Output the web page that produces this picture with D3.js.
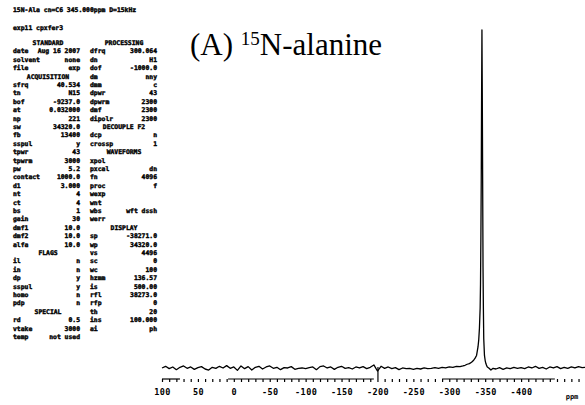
<!DOCTYPE html>
<html>
<head>
<meta charset="utf-8">
<script src="https://cdn.jsdelivr.net/npm/d3@7"></script>
<style>
  body { margin: 0; background: #fff; }
  svg { display: block; }
  .mono { font-family: "DejaVu Sans Mono", monospace; font-weight: bold; fill: #000; }
</style>
</head>
<body>
<svg id="chart"></svg>
<script>
// spectrum (chemical shift in ppm, relative intensity)
const ppm = [
  100, 95, 90, 85, 80, 75, 70, 65, 60, 55,
  50, 45, 40, 35, 30, 25, 20, 15, 10, 5,
  0, -5, -10, -15, -20, -25, -30, -35, -40, -45,
  -50, -55, -60, -65, -70, -75, -80, -85, -90, -95,
  -100, -105, -110, -115, -120, -125, -130, -135, -140, -145,
  -150, -155, -160, -165, -170, -175, -180, -185, -190, -195,
  -200, -205, -210, -215, -220, -225, -230, -235, -240, -245,
  -250, -255, -260, -265, -270, -275, -280, -285, -290, -295,
  -300, -305, -310, -315,
  -319, -322, -325, -328, -331, -334, -336, -338, -340, -341,
  -342, -343, -343.5, -344, -344.5, -345, -345.5, -346, -346.5, -347,
  -347.5, -348, -349, -350, -351, -352, -353, -355,
  -358, -361, -365, -370, -375, -380, -385, -390, -395, -400,
  -405, -410, -415, -420, -425, -430, -435, -440, -445, -450,
  -455, -460, -465, -470, -475, -480, -485, -489
];
const intensity = [
  0.3, 0.8, 0.1, 0.6, -0.2, 0.5, 0.9, 0.2, 0.6, -0.1,
  0.4, 0.7, 0.0, -0.3, 0.5, 0.2, 0.8, 0.3, 1.0, 0.2,
  0.6, -0.4, 0.9, 0.1, 0.7, -0.3, 0.5, 0.8, 0.0, 0.6,
  0.9, 0.2, 0.5, -0.2, 0.4, 0.3, 0.7, -0.1, 0.2, 0.3,
  0.1, 0.4, 0.6, -0.2, 0.7, 0.9, 0.3, 0.6, -0.1, 0.5,
  0.8, 0.2, 0.4, 0.0, 0.6, 0.3, 0.7, 0.1, 0.5, 1.2,
  -0.6, 0.8, 0.2, 0.6, 0.1, 0.4, -0.2, 0.3, 0.1, 0.2,
  -0.1, 0.2, 0.0, 0.3, 0.1, 0.2, 0.4, 0.2, 0.5, 0.3,
  0.6, 0.5, 0.8, 0.7,
  0.9, 1.1, 1.4, 1.6, 2.0, 2.6, 3.2, 4.0, 6.5, 8.5,
  12, 18, 25, 38, 55, 80, 100, 80, 55, 30,
  18, 9, 4, 2.5, 1.6, 1.0, 0.6, 0.3,
  -0.3, 0.2, 0.0, 0.4, -0.1, 0.3, 0.1, 0.5, 0.2, 0.4,
  0.1, 0.6, 0.3, 0.8, 0.2, 0.5, 0.0, 0.6, 0.3, 0.7,
  0.1, 0.5, 0.2, 0.6, 0.3, 0.7, 0.4, 0.5
];
const tickLabels = [100, 50, 0, -50, -100, -150, -200, -250, -300, -350, -400];
// parts of the printed ppm rule that are actually visible in the scan
const axisRuns = [[100, 75], [8, -195], [-290, -447]];

// acquisition parameter listing printed beside the spectrum
const headerLines = ["15N-Ala cn=C6 345.000ppm D=15kHz", "exp11  cpxfer3"];
const paramRows = [
  ["STANDARD", null, "PROCESSING", null],
  ["date", "Aug 16 2007", "dfrq", "300.064"],
  ["solvent", "none", "dn", "H1"],
  ["file", "exp", "dof", "-1000.0"],
  ["ACQUISITION", null, "dm", "nny"],
  ["sfrq", "40.534", "dmm", "c"],
  ["tn", "N15", "dpwr", "43"],
  ["bof", "-9237.0", "dpwrm", "2300"],
  ["at", "0.032000", "dmf", "2300"],
  ["np", "221", "dipolr", "2300"],
  ["sw", "34320.0", "DECOUPLE F2", null],
  ["fb", "13400", "dcp", "n"],
  ["sspul", "y", "crossp", "1"],
  ["tpwr", "43", "WAVEFORMS", null],
  ["tpwrm", "3000", "xpol", ""],
  ["pw", "5.2", "pxcal", "dn"],
  ["contact", "1000.0", "fn", "4096"],
  ["d1", "3.000", "proc", "f"],
  ["nt", "4", "wexp", ""],
  ["ct", "4", "wnt", ""],
  ["bs", "1", "wbs", "wft dssh"],
  ["gain", "30", "werr", ""],
  ["dmf1", "10.0", "DISPLAY", null],
  ["dmf2", "10.0", "sp", "-38271.0"],
  ["alfa", "10.0", "wp", "34320.0"],
  ["FLAGS", null, "vs", "4496"],
  ["il", "n", "sc", "0"],
  ["in", "n", "wc", "100"],
  ["dp", "y", "hzmm", "136.57"],
  ["sspul", "y", "is", "500.00"],
  ["homo", "n", "rfl", "38273.0"],
  ["pdp", "n", "rfp", "0"],
  ["SPECIAL", null, "th", "20"],
  ["rd", "0.5", "ins", "100.000"],
  ["vtake", "3000", "ai", "ph"],
  ["temp", "not used", "", ""]
];

const width = 585, height = 405;
const svg = d3.select("#chart").attr("width", width).attr("height", height);
svg.append("rect").attr("width", width).attr("height", height).attr("fill", "#fff");

// x runs high ppm -> low ppm, left to right
const x = d3.scaleLinear().domain([100, -489]).range([162, 585]);
const y = d3.scaleLinear().domain([0, 100]).range([369, 30]);

const spectrum = d3.zip(ppm, intensity);
svg.append("path")
  .datum(spectrum)
  .attr("fill", "none")
  .attr("stroke", "#000")
  .attr("stroke-width", 1.3)
  .attr("stroke-linejoin", "round")
  .attr("d", d3.line().x(d => x(d[0])).y(d => y(d[1])));

// ppm axis
const axis = d3.axisBottom(x)
  .tickValues(d3.range(100, -489, -10))
  .tickSize(3)
  .tickPadding(7)
  .tickFormat(d => tickLabels.includes(d) ? d : "");
const gx = svg.append("g").attr("transform", "translate(0,379)").call(axis);
gx.select(".domain").remove();
gx.selectAll(".tick line").attr("stroke", "#000").attr("stroke-width", 1.2);
// the -200 mark runs up to the trace in the print
gx.selectAll(".tick").filter(d => d === -200).select("line").attr("y1", -12);
gx.selectAll(".tick text")
  .attr("class", "mono")
  .style("font-size", "8.5px")
  .style("letter-spacing", "0.4px");
gx.selectAll(".run")
  .data(axisRuns)
  .join("line")
  .attr("class", "run")
  .attr("x1", d => x(d[0])).attr("x2", d => x(d[1]))
  .attr("y1", 0).attr("y2", 0)
  .attr("stroke", "#000").attr("stroke-width", 1.2);

svg.append("text").attr("class", "mono")
  .attr("x", 572).attr("y", 399)
  .attr("text-anchor", "middle")
  .style("font-size", "7px")
  .text("ppm");

// title
const title = svg.append("text")
  .attr("x", 190).attr("y", 55)
  .style("font-family", "'Liberation Serif', 'DejaVu Serif', serif")
  .style("font-size", "31px")
  .attr("fill", "#000");
title.append("tspan").text("(A) ");
title.append("tspan").attr("dy", -10).style("font-size", "19px").text("15");
title.append("tspan").attr("dy", 10).text("N-alanine");

// parameter listing
const block = svg.append("g").attr("class", "mono")
  .style("font-size", "6.4px")
  .attr("stroke", "#000").attr("stroke-width", 0.4);

block.selectAll("text.head")
  .data(headerLines)
  .join("text")
  .attr("class", "head")
  .attr("x", 13)
  .attr("y", (d, i) => 12 + i * 18)
  .text(d => d);

const rowY = d3.scalePoint().domain(d3.range(paramRows.length)).range([45, 339]);
const cols = [
  { label: 13, value: 80, head: 48 },
  { label: 90, value: 157, head: 124 }
];

paramRows.forEach((row, i) => {
  cols.forEach((c, k) => {
    const label = row[k * 2], value = row[k * 2 + 1];
    if (!label) return;
    if (value === null) {
      block.append("text")
        .attr("x", c.head).attr("y", rowY(i))
        .attr("text-anchor", "middle")
        .text(label);
    } else {
      block.append("text")
        .attr("x", c.label).attr("y", rowY(i))
        .text(label);
      if (value) {
        block.append("text")
          .attr("x", c.value).attr("y", rowY(i))
          .attr("text-anchor", "end")
          .text(value);
      }
    }
  });
});
</script>
</body>
</html>
